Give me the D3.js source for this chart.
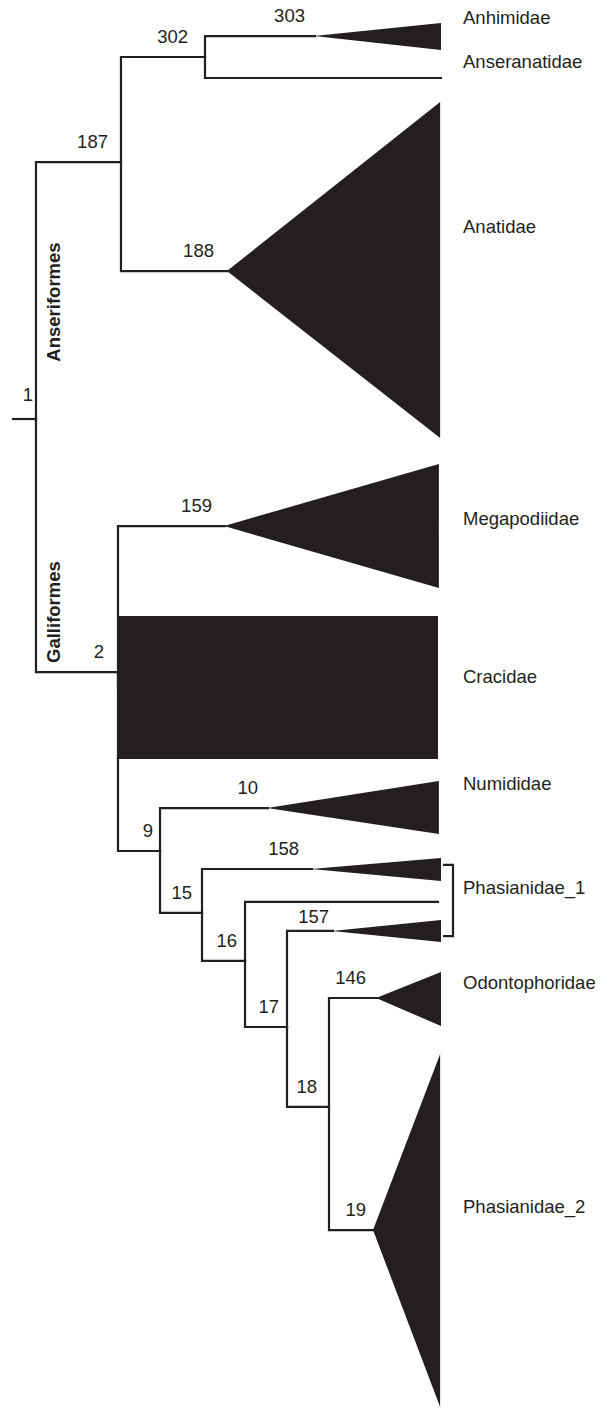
<!DOCTYPE html>
<html>
<head>
<meta charset="utf-8">
<script src="https://cdn.jsdelivr.net/npm/d3@7"></script>
<style>
  body { margin: 0; background: #fff; }
  text { font-family: "Liberation Sans", Arial, Helvetica, sans-serif; fill: #231f20; }
</style>
</head>
<body>
<svg id="tree"></svg>
<script>
// Tree nodes: depth along the branch axis (0-100), row down the page (0-100)
var nodeIds     = ["1", "187", "302", "303", "anser", "188", "2", "159", "crac", "9", "10", "15", "158", "16", "leaf", "17", "157", "18", "146", "19"];
var nodeParents = [null, "1", "187", "302", "302", "187", "1", "2", "2", "2", "9", "9", "15", "15", "16", "16", "17", "17", "18", "18"];
var nodeDepths  = [5.37, 25.23, 44.86, 70.56, 100, 50.23, 24.53, 49.53, 24.53, 34.35, 59.58, 44.16, 69.86, 54.21, 99.3, 64.02, 74.77, 73.83, 85.05, 84.35];
var nodeRows    = [29.76, 11.51, 4.05, 2.56, 5.54, 19.25, 47.73, 37.36, 48.83, 60.44, 57.39, 64.84, 61.72, 68.25, 64.06, 72.94, 66.12, 78.62, 70.88, 87.36];
var rootDepth = 0;

// Collapsed clades drawn as wedges (or a block for Cracidae)
var cladeNodes    = ["303", "188", "159", "crac", "10", "158", "157", "146", "19"];
var cladeShapes   = ["tri", "tri", "tri", "rect", "tri", "tri", "tri", "tri", "tri"];
var cladeTops     = [1.63, 7.24, 32.95, 43.75, 55.47, 60.94, 65.34, 69.03, 74.86];
var cladeBottoms  = [3.55, 31.11, 41.76, 53.91, 59.23, 62.57, 66.90, 72.87, 99.93];
var cladeTipDepth = [100, 99.8, 99.5, 99.3, 99.5, 100, 100, 100, 99.8];

// Family names and order names
var taxa   = ["Anhimidae", "Anseranatidae", "Anatidae", "Megapodiidae", "Cracidae", "Numididae", "Phasianidae_1", "Odontophoridae", "Phasianidae_2"];
var orders = ["Anseriformes", "Galliformes"];

// layout bits (label placement only)
var taxonLabelRow = {"Anhimidae": 1.21, "Anseranatidae": 4.33, "Anatidae": 16.05, "Megapodiidae": 36.79, "Cracidae": 48.01,
                     "Numididae": 55.61, "Phasianidae_1": 63.0, "Odontophoridae": 69.74, "Phasianidae_2": 85.65};
var orderLabelRow = {"Anseriformes": 21.45, "Galliformes": 43.47};
var labelGap = {"302": 17, "187": 13, "1": 3, "2": 14, "9": 7, "157": 4, "188": 14, "159": 13, "158": 13,
                "146": 11, "18": 12, "16": 8, "17": 8, "19": 8};
var labelRise = {"157": 15, "1": 25};
var bracketRows = [61.43, 66.48];

var width = 611, height = 1408;
var ink = "#231f20";
var fontSize = "18.5px";

var svg = d3.select("#tree")
  .attr("width", width)
  .attr("height", height);

var xScale = d3.scaleLinear().domain([0, 100]).range([13, 441]);
var yScale = d3.scaleLinear().domain([0, 100]).range([0, 1408]);

// build node list
var nodes = nodeIds.map(function(id, i){
  return {id: id, parent: nodeParents[i], depth: nodeDepths[i], row: nodeRows[i]};
});
var byId = {};
nodes.forEach(function(n){ byId[n.id] = n; });

// Collapsed clades
var clades = cladeNodes.map(function(id, i){
  return {node: byId[id], shape: cladeShapes[i], top: cladeTops[i], bottom: cladeBottoms[i], tip: cladeTipDepth[i]};
});

svg.append("g")
  .selectAll("path")
  .data(clades)
  .enter()
  .append("path")
  .attr("fill", ink)
  .attr("d", function(d){
    var x0 = xScale(d.node.depth), x1 = xScale(d.tip);
    if (d.shape === "rect") {
      return "M" + x0 + "," + yScale(d.top) + "H" + x1 + "V" + yScale(d.bottom) + "H" + x0 + "Z";
    }
    // start the wedge a touch left so it meets the branch cleanly
    return "M" + (x0 - 1) + "," + yScale(d.node.row) + "L" + x1 + "," + yScale(d.top) + "L" + x1 + "," + yScale(d.bottom) + "Z";
  });

// Branches (elbow style)
var branches = svg.append("g")
  .attr("fill", "none")
  .attr("stroke", ink)
  .attr("stroke-width", 2.2)
  .attr("stroke-linecap", "square");

branches.selectAll("path.branch")
  .data(nodes)
  .enter()
  .append("path")
  .attr("class", "branch")
  .attr("d", function(d){
    if (d.parent === null) {
      return "M" + xScale(rootDepth) + "," + yScale(d.row) + "H" + xScale(d.depth);
    }
    var p = byId[d.parent];
    var path = "M" + xScale(p.depth) + "," + yScale(p.row) + "V" + yScale(d.row);
    if (d.depth > p.depth) path += "H" + xScale(d.depth);
    return path;
  });

// Bracket for Phasianidae_1
var bx = xScale(100) + 2;
svg.append("path")
  .attr("fill", "none")
  .attr("stroke", ink)
  .attr("stroke-width", 2.2)
  .attr("d", "M" + bx + "," + yScale(bracketRows[0]) + "H" + (bx + 10) + "V" + yScale(bracketRows[1]) + "H" + bx);

// Node numbers
svg.append("g")
  .selectAll("text")
  .data(nodes.filter(function(d){ return !isNaN(+d.id); }))
  .enter()
  .append("text")
  .attr("x", function(d){ return xScale(d.depth) - (labelGap[d.id] || 10); })
  .attr("y", function(d){ return yScale(d.row) - (labelRise[d.id] || 21); })
  .attr("dy", "0.36em")
  .style("text-anchor", "end")
  .style("font-size", fontSize)
  .text(function(d){ return d.id; });

// Family labels
svg.append("g")
  .selectAll("text")
  .data(taxa)
  .enter()
  .append("text")
  .attr("x", xScale(100) + 22)
  .attr("y", function(d){ return yScale(taxonLabelRow[d]); })
  .attr("dy", "0.36em")
  .style("font-size", fontSize)
  .text(function(d){ return d; });

// Order labels, rotated along the root branch
svg.append("g")
  .selectAll("text")
  .data(orders)
  .enter()
  .append("text")
  .attr("transform", function(d){ return "translate(53," + yScale(orderLabelRow[d]) + ") rotate(-90)"; })
  .attr("dy", "0.36em")
  .style("text-anchor", "middle")
  .style("font-size", fontSize)
  .style("font-weight", "bold")
  .text(function(d){ return d; });
</script>
</body>
</html>
